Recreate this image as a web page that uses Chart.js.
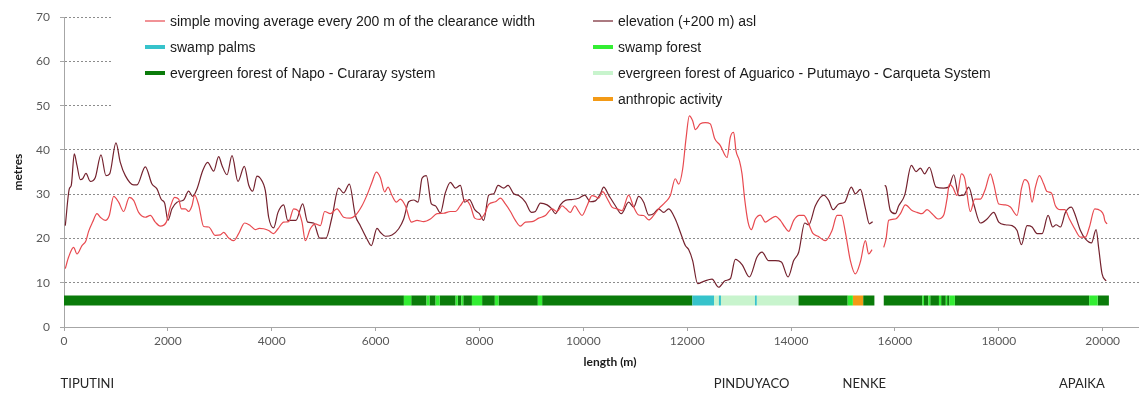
<!DOCTYPE html>
<html lang="en">
<head>
<meta charset="UTF-8">
<title>Clearance width and elevation profile</title>
<script src="https://cdn.jsdelivr.net/npm/chart.js@4.4.1/dist/chart.umd.min.js"></script>
<style>
  html, body { margin: 0; padding: 0; background: #fff; }
  .chart-box { position: relative; width: 1139px; height: 394px; }
</style>
</head>
<body>
<div class="chart-box"><canvas id="profileChart"></canvas></div>
<script>
// distance along the route (m) and simple moving average of clearance width (m)
// null = no survey between the two sections
const smaDist = [25, 89, 185, 250, 346, 423, 474, 551, 635, 699, 795, 872, 956, 1052, 1148, 1258, 1341, 1437, 1566, 1662,
  1758, 1854, 1970, 2047, 2130, 2208, 2259, 2336, 2400, 2464, 2516, 2593, 2689, 2785, 2914, 3010, 3074, 3171, 3267, 3363,
  3479, 3588, 3684, 3761, 3844, 3941, 4037, 4121, 4230, 4326, 4423, 4506, 4583, 4647, 4743, 4840, 4936, 5019, 5128, 5256,
  5385, 5513, 5610, 5738, 5834, 5930, 6014, 6091, 6175, 6239, 6316, 6400, 6477, 6573, 6689, 6798, 6926, 7055, 7183, 7311,
  7440, 7536, 7632, 7729, 7825, 7909, 7999, 8101, 8178, 8307, 8403, 8499, 8596, 8692, 8788, 8885, 9013, 9141, 9270, 9398,
  9494, 9590, 9667, 9751, 9834, 9911, 9975, 10072, 10168, 10231, 10295, 10373, 10456, 10552, 10649, 10745, 10873, 10969, 11066, 11162,
  11258, 11354, 11450, 11579, 11675, 11771, 11836, 11913, 11977, 12041, 12105, 12157, 12253, 12349, 12445, 12529, 12638, 12767, 12831, 12895,
  12940, 13005, 13056, 13107, 13172, 13236, 13313, 13409, 13505, 13602, 13698, 13794, 13878, 13955, 14051, 14160, 14244, 14340, 14417, 14520,
  14661, 14789, 14886, 14969, 15046, 15142, 15238, 15335, 15431, 15495, 15560, 15680, 15784, 15829, 15880, 16008, 16105, 16201, 16330, 16426,
  16522, 16619, 16715, 16831, 16940, 17004, 17049, 17113, 17196, 17280, 17344, 17453, 17537, 17646, 17742, 17839, 17903, 17999, 18127, 18224,
  18352, 18435, 18500, 18577, 18641, 18705, 18782, 18866, 18930, 19013, 19090, 19187, 19270, 19360, 19462, 19572, 19668, 19745, 19848, 19957,
  20021, 20040, 20085];
const smaVal = [13.2, 15.8, 18, 16.5, 18.4, 19.5, 21.6, 23.7, 25.6, 24.8, 24.1, 25.2, 29.5, 28.2, 26.1, 29.3, 28.6, 25.9, 24.8, 25.2,
  23.7, 22.8, 23.7, 27.1, 29.3, 28.9, 26.7, 26.7, 26.1, 27.4, 29.8, 27.6, 22.7, 22.6, 20.7, 20.8, 21.4, 20.1, 19.5, 21.1,
  23.5, 22.9, 22, 22.3, 22.2, 21.8, 21.1, 22.2, 23.7, 23.8, 26.7, 26.3, 23.7, 19.5, 22.2, 23.3, 22.9, 26.1, 25.6, 26.7,
  24.8, 24.6, 25.2, 27.4, 29.8, 32.7, 35, 33.8, 30.5, 31.6, 29.7, 28.2, 28.9, 27.4, 23.7, 24.1, 23.8, 24.4, 25.6, 25.7,
  26.1, 26.1, 27.4, 28.8, 27.4, 24.6, 24.3, 25.6, 27.7, 28.3, 29.1, 27.8, 26.1, 24.1, 22.8, 23.7, 23.8, 24.6, 25.2, 26.7,
  26.1, 27.4, 26.7, 25.9, 27.4, 26.1, 25.2, 27.4, 29.7, 29.5, 29.1, 30.6, 29.1, 27.1, 26.7, 26.3, 29.8, 27.1, 25.3, 25.2,
  24.2, 25.2, 26.7, 28.2, 29.7, 33.5, 32.3, 35.7, 42.5, 47.7, 46.6, 44.6, 45.9, 46.2, 45.9, 42.6, 41, 38.3, 42.9, 44,
  39.8, 37.6, 34.6, 28.9, 23.7, 22, 24.4, 25.3, 23.7, 24.4, 25, 24.1, 22.6, 21.6, 24.1, 25.2, 25.2, 23.3, 21.2, 20.5,
  19.5, 21.8, 25.2, 25.2, 21.4, 15, 12, 14.7, 19.5, 16.5, 17.5, null, 18, 19.9, 24.1, 24.4, 25.6, 27.6, 26.3, 25.9,
  25.6, 26.5, 25.6, 24.4, 25.3, 29, 32.3, 31.6, 29.7, 34.6, 33.6, 26.1, 28.9, 28.9, 31.2, 34.6, 32.3, 27.8, 27.6, 27.1,
  25.2, 31.2, 33.3, 32.3, 28.2, 31.6, 34.2, 32.3, 30.6, 30.3, 27.4, 26.5, 26.5, 24.4, 22.2, 20.3, 20.3, 22.6, 26.7, 26.3,
  25.2, 24.1, 23.3];

// distance along the route (m) and elevation above sea level minus 200 m
const elevDist = [25, 102, 140, 198, 250, 314, 359, 423, 506, 603, 712, 808, 879, 1001, 1084, 1181, 1341, 1405, 1566, 1694,
  1790, 1874, 1938, 2002, 2079, 2176, 2304, 2400, 2477, 2561, 2670, 2766, 2882, 2978, 3042, 3139, 3235, 3350, 3472, 3556,
  3633, 3716, 3780, 3877, 3941, 4037, 4121, 4230, 4307, 4467, 4596, 4692, 4808, 4923, 5045, 5160, 5288, 5385, 5494, 5610,
  5706, 5834, 5918, 6027, 6091, 6188, 6316, 6445, 6541, 6637, 6734, 6817, 6894, 6978, 7074, 7151, 7247, 7343, 7440, 7536,
  7632, 7716, 7806, 7909, 7999, 8082, 8178, 8274, 8358, 8467, 8551, 8660, 8756, 8885, 9000, 9077, 9173, 9302, 9385, 9462,
  9558, 9654, 9783, 9911, 10027, 10136, 10231, 10328, 10392, 10488, 10617, 10732, 10873, 10969, 11066, 11162, 11258, 11354, 11450, 11547,
  11643, 11771, 11868, 11964, 12028, 12105, 12201, 12317, 12478, 12606, 12735, 12831, 12927, 13056, 13197, 13345, 13441, 13570, 13698, 13814,
  13942, 14051, 14147, 14263, 14340, 14468, 14629, 14725, 14809, 14918, 15033, 15161, 15238, 15335, 15431, 15508, 15572, 15680, 15803, 15829,
  15912, 16008, 16073, 16188, 16317, 16406, 16490, 16573, 16663, 16792, 16940, 17036, 17132, 17229, 17325, 17421, 17517, 17646, 17774, 17903,
  17999, 18127, 18256, 18352, 18435, 18545, 18641, 18737, 18834, 18949, 19039, 19103, 19187, 19283, 19398, 19475, 19572, 19668, 19784, 19874,
  19925, 19989, 20066];
const elevVal = [22.9, 31.2, 32, 39.1, 36.5, 33.3, 33.5, 34.7, 32.9, 33.8, 38.9, 34.2, 34.6, 41.6, 37.2, 34.2, 32.1, 32.1, 36.2, 32.3,
  31.2, 28.8, 28, 24.1, 26.7, 28.2, 28.7, 30.7, 29.5, 31.2, 35.3, 37.2, 35.2, 38.5, 36.5, 34.4, 38.7, 32.9, 36.3, 32.1,
  30.7, 34.1, 33.6, 30.8, 24.8, 22.4, 25.9, 27.6, 24.1, 24.1, 27.8, 23.7, 23.5, 20.1, 20.1, 24.8, 31.4, 30.3, 32.3, 25.2,
  22.9, 19.9, 18.4, 22.3, 21.4, 20.5, 20.8, 22.2, 24.4, 28.3, 28.7, 28.2, 33.6, 34.2, 27.8, 27.4, 25.8, 30.3, 32.7, 31.4,
  32, 28.2, 28.8, 26.5, 25.6, 24.1, 29.8, 30.1, 32, 31.4, 32, 30.1, 29.7, 28.2, 25.9, 26.1, 28, 27.6, 26.8, 25.6,
  27.6, 28.6, 28.8, 29.1, 29.8, 28.3, 28.5, 30.1, 31.6, 29.8, 27.4, 25.6, 28.2, 27.1, 29.5, 28.2, 25.3, 25.6, 26.7, 25.9,
  26.7, 24.4, 21.4, 18.4, 17.5, 15, 9.8, 10.3, 10.8, 9, 10.5, 10.9, 15.3, 14.1, 11.3, 15.8, 16.9, 15, 15, 14.7,
  11.3, 15, 16.9, 23.5, 23.1, 27.4, 29.8, 28.6, 26.5, 27.8, 28.2, 31.6, 30.1, 31.1, 26.8, 23.3, 23.8, null, 32, 31.7,
  26.3, 25.6, 27.4, 29.8, 36.5, 35.1, 35.9, 34.6, 36.1, 31.6, 31.4, 31.6, 34.4, 29.7, 29.8, 31.6, 27.8, 23.5, 24.4, 25.9,
  23.7, 23.1, 22.9, 21.8, 18.6, 22.9, 22.6, 21.1, 21.1, 25.2, 22.6, 23.1, 22.6, 25.9, 27.1, 25.2, 21.8, 19.9, 19, 22,
  17.7, 12, 10.4];

// land cover along the route, [from, to] in m
const napoSegments = [[0, 6545], [6686, 6981], [7037, 7156], [7233, 7541], [7583, 7652], [7688, 7855], [8051, 8296],
  [8367, 9124], [9207, 12100], [14144, 15090], [15390, 15605], [15785, 16530], [16560, 16645], [16680, 16848],
  [16890, 16980], [17005, 17050], [17155, 19740], [19904, 20120]];
const swampForestSegments = [[6545, 6686], [6981, 7037], [7156, 7233], [7541, 7583], [7652, 7688], [7855, 8051],
  [8296, 8367], [9124, 9207], [15090, 15190], [16530, 16560], [16645, 16680], [16848, 16890], [16980, 17005],
  [17050, 17155], [19740, 19904]];
const swampPalmSegments = [[12100, 12516], [12610, 12650], [13305, 13340]];
const aguaricoSegments = [[12516, 12610], [12650, 13305], [13340, 14144]];
const anthropicSegments = [[15190, 15390]];

const xTicks = [0, 2000, 4000, 6000, 8000, 10000, 12000, 14000, 16000, 18000, 20000];
const placeNames = ['TIPUTINI', 'PINDUYACO', 'NENKE', 'APAIKA'];
const placeDist = [450, 13240, 15410, 19600];

const STRIP_LEVEL = 6;

function toPoints(dist, vals) {
  return dist.map((d, i) => ({ x: d, y: vals[i] }));
}

function stripPoints(segs) {
  const pts = [];
  segs.forEach(([a, b]) => {
    pts.push({ x: a, y: STRIP_LEVEL }, { x: b, y: STRIP_LEVEL }, { x: b, y: null });
  });
  return pts;
}

function stripSet(label, segs, color) {
  return {
    label: label,
    data: stripPoints(segs),
    borderColor: color,
    backgroundColor: color,
    borderWidth: 10,
    borderCapStyle: 'butt',
    pointRadius: 0,
    spanGaps: false,
    tension: 0,
    isStrip: true
  };
}

// legend is drawn inside the plot, two columns like the original
const legendSlots = [[0, 0], [1, 0], [0, 1], [1, 1], [0, 2], [1, 2], [1, 3]];
const legendPlugin = {
  id: 'insideLegend',
  beforeDatasetsDraw(chart) {
    const ctx = chart.ctx;
    const area = chart.chartArea;
    ctx.save();
    ctx.fillStyle = '#fff';
    ctx.fillRect(112, 0, area.right - 112, 112);
    ctx.font = '14px "Liberation Sans", Arial, sans-serif';
    ctx.textBaseline = 'middle';
    ctx.fillStyle = '#1a1a1a';
    const colX = [145, 593];
    const rowY = [21, 47, 73, 99];
    chart.data.datasets.forEach((ds, i) => {
      const [c, r] = legendSlots[i];
      const x = colX[c], y = rowY[r];
      ctx.strokeStyle = ds.borderColor;
      ctx.lineWidth = ds.isStrip ? 4 : 1.2;
      ctx.beginPath();
      ctx.moveTo(x, y);
      ctx.lineTo(x + 20, y);
      ctx.stroke();
      ctx.fillText(ds.label, x + 25, y + 1);
    });
    ctx.restore();
  },
  afterDraw(chart) {
    const ctx = chart.ctx;
    const xs = chart.scales.x;
    ctx.save();
    ctx.font = '13px Lato, "Open Sans", sans-serif';
    ctx.fillStyle = '#262626';
    ctx.textAlign = 'center';
    ctx.textBaseline = 'middle';
    placeNames.forEach((name, i) => {
      ctx.fillText(name, xs.getPixelForValue(placeDist[i]), 384);
    });
    // axis title, a little right of centre as in the original
    ctx.font = 'bold 12px Lato, "Open Sans", sans-serif';
    ctx.fillStyle = '#1a1a1a';
    ctx.fillText('length (m)', 610, 362);
    ctx.restore();
  }
};

const ctx = document.getElementById('profileChart').getContext('2d');
new Chart(ctx, {
  type: 'line',
  data: {
    datasets: [
      {
        label: 'simple moving average every 200 m of the clearance width',
        data: toPoints(smaDist, smaVal),
        borderColor: '#e84a50',
        borderWidth: 1.2,
        pointRadius: 0,
        spanGaps: false,
        tension: 0.2,
        cubicInterpolationMode: 'monotone'
      },
      {
        label: 'elevation (+200 m) asl',
        data: toPoints(elevDist, elevVal),
        borderColor: '#74222e',
        borderWidth: 1.2,
        pointRadius: 0,
        spanGaps: false,
        tension: 0.2,
        cubicInterpolationMode: 'monotone'
      },
      stripSet('swamp palms', swampPalmSegments, '#36c3cb'),
      stripSet('swamp forest', swampForestSegments, '#33ee33'),
      stripSet('evergreen forest of Napo - Curaray system', napoSegments, '#0a7b0a'),
      stripSet('evergreen forest of Aguarico - Putumayo - Carqueta System', aguaricoSegments, '#c8f4cd'),
      stripSet('anthropic activity', anthropicSegments, '#f39a16')
    ]
  },
  options: {
    responsive: true,
    maintainAspectRatio: false,
    animation: false,
    layout: { padding: { top: 16, right: 0, bottom: 0, left: 0 } },
    plugins: {
      legend: { display: false },
      tooltip: { enabled: false }
    },
    scales: {
      x: {
        type: 'linear',
        min: 0,
        max: 20700,
        afterBuildTicks: s => { s.ticks = xTicks.map(v => ({ value: v })); },
        ticks: {
          autoSkip: false,
          maxRotation: 0,
          color: '#595959',
          padding: 3,
          font: { family: 'Lato', size: 12 },
          callback: v => String(v)
        },
        grid: { drawOnChartArea: false, tickLength: 4, tickColor: '#a6a6a6' },
        border: { color: '#a6a6a6' },
        afterFit: s => { s.height = 67; }
      },
      y: {
        min: 0,
        max: 70,
        ticks: {
          stepSize: 10,
          color: '#595959',
          padding: 10,
          font: { family: 'Lato', size: 12 }
        },
        grid: {
          color: c => (c.tick && c.tick.value === 0 ? 'rgba(0,0,0,0)' : '#8c8c8c'),
          tickColor: '#a6a6a6',
          tickLength: 4
        },
        border: { color: '#a6a6a6', dash: [2, 2] },
        title: {
          display: true,
          text: 'metres',
          color: '#1a1a1a',
          font: { family: 'Lato', size: 12, weight: 'bold' },
          padding: { top: 11, bottom: 0 }
        },
        afterFit: s => { s.width = 64; }
      }
    }
  },
  plugins: [legendPlugin]
});
</script>
</body>
</html>
